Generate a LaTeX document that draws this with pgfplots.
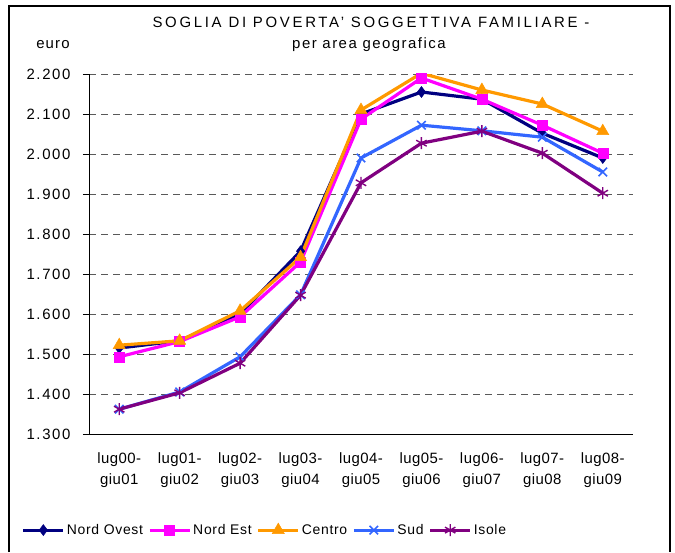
\documentclass[border=0pt]{standalone}
\usepackage{pgfplots}
\pgfplotsset{compat=1.18}
\usepackage{fontspec}
\setmainfont{Liberation Sans}
\definecolor{cNO}{RGB}{0,0,128}
\definecolor{cNE}{RGB}{255,0,255}
\definecolor{cCE}{RGB}{255,153,0}
\definecolor{cSU}{RGB}{51,102,255}
\definecolor{cIS}{RGB}{128,0,128}
\begin{document}
\begin{tikzpicture}
\path (0,0) rectangle (675bp,552bp);
\draw[line width=1.2bp] (9bp,0) -- (9bp,546bp) -- (670bp,546bp) -- (670bp,0);
\node[font=\fontsize{15}{18}\selectfont\addfontfeature{LetterSpace=18}] at (371bp,530bp) {SOGLIA DI POVERTA' SOGGETTIVA FAMILIARE -};
\node[font=\fontsize{15}{18}\selectfont\addfontfeature{LetterSpace=10}] at (369bp,507bp) {per area geografica};
\node[font=\fontsize{15}{18}\selectfont\addfontfeature{LetterSpace=8}] at (53bp,507bp) {euro};
\begin{axis}[
  at={(89bp,118bp)}, anchor=south west,
  width=544bp, height=360bp, scale only axis,
  xmin=-0.5, xmax=8.5, ymin=1300, ymax=2200,
  axis x line*=bottom, axis y line*=left,
  axis line style={black, line width=0.9bp},
  xtick={0,...,8},
  xticklabels={{lug00-\\giu01},{lug01-\\giu02},{lug02-\\giu03},{lug03-\\giu04},{lug04-\\giu05},{lug05-\\giu06},{lug06-\\giu07},{lug07-\\giu08},{lug08-\\giu09}},
  xtick style={draw=none},
  xticklabel style={align=center, font=\fontsize{15}{21}\selectfont\addfontfeature{LetterSpace=3}, yshift=-9bp},
  ytick={1300,1400,...,2200},
  ytick style={black, line width=0.9bp},
  tick align=outside, major tick length=6bp,
  yticklabel style={font=\fontsize{15}{18}\selectfont\addfontfeature{LetterSpace=11}, xshift=-9bp},
  /pgf/number format/assume math mode=true,
  /pgf/number format/.cd, fixed, precision=0, 1000 sep={.}, /pgfplots/.cd,
  ymajorgrids,
  major grid style={dash pattern=on 7bp off 5bp, black!65, line width=0.9bp},
  legend columns=-1,
  legend style={at={(-0.124,-0.267)}, anchor=west, draw=none, fill=none,
    font=\fontsize{14}{16}\selectfont\addfontfeature{LetterSpace=5},
    /tikz/every even column/.append style={column sep=3bp},
    inner sep=0pt},
  legend image code/.code={\draw[mark repeat=2,mark phase=2,#1] plot coordinates {(0bp,0bp)(20bp,0bp)(40bp,0bp)};},
  every axis plot/.append style={line width=3.2bp},
]
\addplot[cNO, mark=diamond*, mark size=5.5bp, mark options={solid, line width=0.5bp}] coordinates {
(0,1515)(1,1533)(2,1600)(3,1757)(4,2100)(5,2155)(6,2137)(7,2052)(8,1990)};
\addlegendentry{Nord Ovest}
\addplot[cNE, mark=square*, mark size=5bp, mark options={solid, line width=0.5bp}] coordinates {
(0,1493)(1,1531)(2,1593)(3,1730)(4,2087)(5,2190)(6,2137)(7,2072)(8,2002)};
\addlegendentry{Nord Est}
\addplot[cCE, mark=triangle*, mark size=7bp, mark options={solid, line width=0.5bp}] coordinates {
(0,1522)(1,1533)(2,1608)(3,1742)(4,2110)(5,2202)(6,2160)(7,2125)(8,2057)};
\addlegendentry{Centro}
\addplot[cSU, mark=x, mark size=6bp, mark options={solid, line width=1.6bp}] coordinates {
(0,1362)(1,1405)(2,1493)(3,1648)(4,1990)(5,2072)(6,2058)(7,2042)(8,1955)};
\addlegendentry{Sud}
\addplot[cIS, mark=asterisk, mark size=6bp, mark options={solid, line width=1.4bp}] coordinates {
(0,1362)(1,1403)(2,1477)(3,1647)(4,1928)(5,2027)(6,2057)(7,2002)(8,1902)};
\addlegendentry{Isole}
\end{axis}
\end{tikzpicture}
\end{document}
